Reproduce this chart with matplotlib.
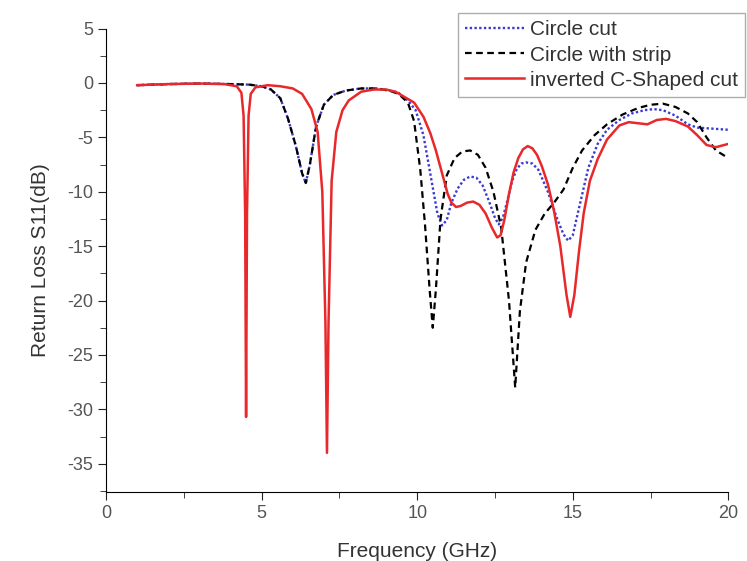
import matplotlib
matplotlib.use('Agg')
import matplotlib.pyplot as plt
from matplotlib.ticker import MultipleLocator

plt.rcParams['font.family'] = ['Liberation Sans', 'DejaVu Sans']
plt.rcParams['axes.unicode_minus'] = False

# Circle cut (blue dotted)
freq_circle = [1.0, 2.0, 3.0, 4.0, 4.6, 5.0, 5.3, 5.6, 5.85, 6.1, 6.3, 6.42, 6.55, 6.75,
               7.0, 7.3, 7.7, 8.2, 8.7, 9.1, 9.4, 9.7, 9.95, 10.2, 10.45, 10.65, 10.8,
               10.95, 11.1, 11.3, 11.5, 11.7, 11.9, 12.1, 12.3, 12.5, 12.62, 12.75,
               12.9, 13.05, 13.2, 13.35, 13.5, 13.7, 13.9, 14.2, 14.5, 14.7, 14.85,
               15.0, 15.2, 15.5, 15.8, 16.1, 16.5, 16.9, 17.3, 17.6, 17.9, 18.3, 18.7,
               19.0, 19.5, 20.0]
s11_circle = [-0.2, -0.1, -0.05, -0.1, -0.15, -0.3, -0.6, -1.4, -3.3, -5.8, -8.3, -9.2,
              -7.5, -4.0, -2.0, -1.1, -0.7, -0.5, -0.5, -0.7, -0.9, -1.6, -2.5, -4.8,
              -8.8, -12.0, -13.1, -12.6, -11.0, -9.7, -8.9, -8.6, -8.7, -9.4, -10.8,
              -12.4, -13.0, -12.4, -10.8, -9.0, -7.9, -7.4, -7.3, -7.4, -8.0, -10.0,
              -12.5, -13.9, -14.5, -14.0, -11.5, -7.8, -5.6, -4.3, -3.4, -2.8, -2.5,
              -2.4, -2.5, -3.0, -3.8, -4.1, -4.2, -4.3]

# Circle with strip (black dashed)
freq_strip = [1.0, 2.0, 3.0, 4.0, 4.6, 5.0, 5.3, 5.6, 5.85, 6.1, 6.3, 6.42, 6.55, 6.75,
              7.0, 7.3, 7.7, 8.2, 8.7, 9.1, 9.4, 9.7, 9.9, 10.1, 10.25, 10.4, 10.5,
              10.6, 10.75, 10.95, 11.2, 11.45, 11.7, 11.95, 12.2, 12.45, 12.7, 12.95,
              13.15, 13.3, 13.5, 13.8, 14.1, 14.4, 14.7, 15.0, 15.3, 15.7, 16.1, 16.6,
              17.1, 17.5, 17.9, 18.3, 18.7, 19.0, 19.3, 19.6, 20.0]
s11_strip = [-0.2, -0.1, -0.05, -0.1, -0.15, -0.3, -0.6, -1.4, -3.3, -5.8, -8.3, -9.2,
             -7.5, -4.0, -2.0, -1.1, -0.7, -0.5, -0.5, -0.7, -1.0, -1.8, -3.5, -8.0,
             -13.0, -19.0, -22.5, -19.0, -12.5, -8.5, -6.9, -6.3, -6.2, -6.6, -7.8,
             -10.0, -13.3, -20.0, -28.0, -21.0, -16.5, -13.5, -12.0, -11.0, -9.8, -7.8,
             -6.2, -4.8, -3.8, -2.9, -2.3, -2.0, -1.9, -2.2, -2.8, -3.6, -5.0, -6.2,
             -6.9]

# inverted C-Shaped cut (red solid)
freq_c = [1.0, 2.0, 3.0, 3.8, 4.2, 4.35, 4.42, 4.47, 4.5, 4.53, 4.58, 4.65, 4.8, 5.2,
          5.6, 6.0, 6.3, 6.6, 6.8, 6.95, 7.05, 7.1, 7.15, 7.25, 7.4, 7.6, 7.8, 8.2,
          8.6, 9.0, 9.3, 9.6, 9.9, 10.2, 10.42, 10.6, 10.8, 10.98, 11.1, 11.25, 11.4,
          11.6, 11.8, 12.0, 12.2, 12.4, 12.57, 12.68, 12.8, 12.95, 13.1, 13.25, 13.4,
          13.55, 13.7, 13.85, 14.0, 14.2, 14.4, 14.6, 14.8, 14.92, 15.05, 15.2, 15.35,
          15.55, 15.8, 16.1, 16.5, 16.8, 17.1, 17.4, 17.7, 18.0, 18.3, 18.7, 19.0,
          19.3, 19.6, 20.0]
s11_c = [-0.2, -0.1, -0.05, -0.1, -0.3, -0.9, -3.0, -12.0, -30.7, -12.0, -3.0, -1.0,
         -0.4, -0.2, -0.3, -0.5, -1.0, -2.4, -4.5, -10.0, -22.0, -34.0, -22.0, -9.0,
         -4.5, -2.5, -1.6, -0.8, -0.6, -0.6, -0.8, -1.3, -1.8, -3.1, -4.6, -6.2,
         -8.3, -10.2, -11.0, -11.4, -11.3, -11.0, -10.9, -11.2, -12.0, -13.3, -14.2,
         -14.0, -12.6, -10.2, -8.2, -6.9, -6.1, -5.8, -6.0, -6.6, -7.6, -9.3, -11.8,
         -15.0, -19.5, -21.5, -19.5, -15.5, -12.0, -9.0, -7.0, -5.2, -3.9, -3.6, -3.7,
         -3.8, -3.4, -3.3, -3.5, -4.0, -4.8, -5.7, -5.9, -5.6]

fig = plt.figure(figsize=(7.47, 5.61), dpi=100)
ax = fig.add_axes([0.142, 0.123, 0.833, 0.826])

ax.plot(freq_circle, s11_circle, color='#3a3ad0', linestyle=(0, (1, 1)), linewidth=1.7,
        label='Circle cut')
ax.plot(freq_strip, s11_strip, color='black', linestyle=(0, (3, 2)), linewidth=1.6,
        label='Circle with strip')
ax.plot(freq_c, s11_c, color='#e8282a', linewidth=1.8, label='inverted C-Shaped cut')

ax.set_xlim(0, 20)
ax.set_ylim(-37.6, 5)
ax.xaxis.set_major_locator(MultipleLocator(5))
ax.xaxis.set_minor_locator(MultipleLocator(2.5))
ax.yaxis.set_major_locator(MultipleLocator(5))
ax.yaxis.set_minor_locator(MultipleLocator(2.5))
ax.spines['top'].set_visible(False)
ax.spines['right'].set_visible(False)
ax.tick_params(which='major', direction='out', length=6, labelsize=13, colors='#222222',
               labelcolor='#555555')
ax.tick_params(which='minor', direction='out', length=4, colors='#222222')

ax.set_xlabel('Frequency (GHz)', fontsize=15, color='#333333', labelpad=14)
ax.set_ylabel('Return Loss S11(dB)', fontsize=15, color='#333333', labelpad=12)

leg = ax.legend(loc='upper left', bbox_to_anchor=(458 / 747, 1 - 13 / 561),
                bbox_transform=fig.transFigure, fontsize=15, frameon=True, fancybox=False,
                handlelength=2.8, handletextpad=0.3, labelspacing=0.3, borderpad=0.35,
                borderaxespad=0)
leg.get_frame().set_edgecolor('#999999')
leg.get_frame().set_linewidth(1.0)
for t in leg.get_texts():
    t.set_color('#333333')

fig.savefig('out.png', dpi=100)
